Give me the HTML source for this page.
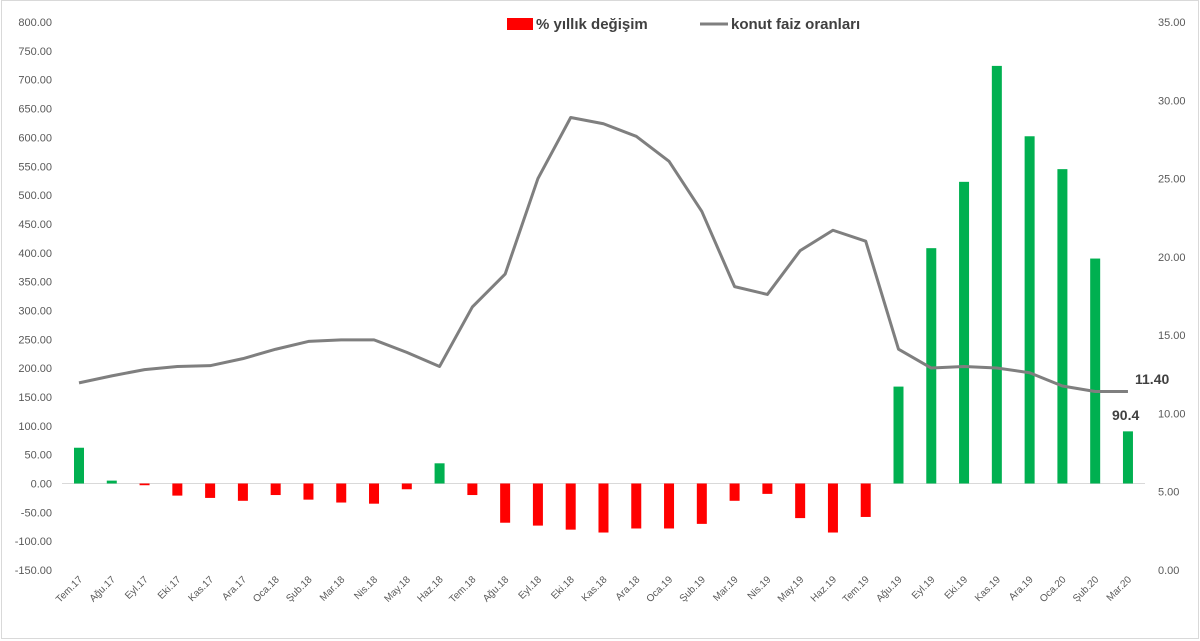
<!DOCTYPE html>
<html><head><meta charset="utf-8"><style>
html,body{margin:0;padding:0;background:#fff;}
svg{display:block;font-family:"Liberation Sans",Arial,sans-serif;}
</style></head><body>
<svg width="1200" height="641" viewBox="0 0 1200 641" xmlns="http://www.w3.org/2000/svg">
<rect width="1200" height="641" fill="#fff"/>
<rect x="1.5" y="0.5" width="1197" height="638" fill="none" stroke="#d9d9d9" stroke-width="1"/>
<g id="g"></g>
</svg>
<script>
const NS="http://www.w3.org/2000/svg",g=document.getElementById('g');
function el(t,a,txt){const e=document.createElementNS(NS,t);for(const k in a)e.setAttribute(k,a[k]);if(txt!==undefined)e.textContent=txt;g.appendChild(e);return e;}
const yL=v=>483.5-v*0.5768, yR=v=>570-v*15.657;
for(let v=-150;v<=800;v+=50)el('text',{x:52,y:yL(v)+4,'text-anchor':'end','font-size':11,fill:'#595959'},v.toFixed(2));
for(let v=0;v<=35;v+=5)el('text',{x:1158,y:yR(v)+4,'font-size':11,fill:'#595959'},v.toFixed(2));
el('line',{x1:62,x2:1145,y1:483.5,y2:483.5,stroke:'#d9d9d9','stroke-width':1});
const cats=["Tem.17","Ağu.17","Eyl.17","Eki.17","Kas.17","Ara.17","Oca.18","Şub.18","Mar.18","Nis.18","May.18","Haz.18","Tem.18","Ağu.18","Eyl.18","Eki.18","Kas.18","Ara.18","Oca.19","Şub.19","Mar.19","Nis.19","May.19","Haz.19","Tem.19","Ağu.19","Eyl.19","Eki.19","Kas.19","Ara.19","Oca.20","Şub.20","Mar.20"];
const bars=[62,5,-3,-21,-25,-30,-20,-28,-33,-35,-10,35,-20,-68,-73,-80,-85,-78,-78,-70,-30,-18,-60,-85,-58,168,408,523,724,602,545,390,90.4];
const line=[11.95,12.4,12.8,13.0,13.05,13.5,14.1,14.6,14.7,14.7,13.9,13.0,16.8,18.9,25.0,28.9,28.5,27.7,26.1,22.9,18.1,17.6,20.4,21.7,21.0,14.1,12.9,13.0,12.9,12.6,11.75,11.4,11.4];
const X=i=>79+i*32.78;
bars.forEach((v,i)=>{const y0=yL(0),y1=yL(v);el('rect',{x:X(i)-5,y:Math.min(y0,y1),width:10,height:Math.abs(y1-y0),fill:v>=0?'#00b050':'#ff0000'});});
el('polyline',{points:line.map((v,i)=>X(i)+','+yR(v)).join(' '),fill:'none',stroke:'#7f7f7f','stroke-width':3,'stroke-linejoin':'round'});
cats.forEach((c,i)=>{const x=X(i)+4,y=580;el('text',{x:x,y:y,'text-anchor':'end','font-size':10,fill:'#595959',transform:`rotate(-45 ${x} ${y})`},c);});
el('text',{x:1135,y:384,'font-size':14,'font-weight':'bold',fill:'#404040'},'11.40');
el('text',{x:1112,y:420,'font-size':14,'font-weight':'bold',fill:'#404040'},'90.4');
el('rect',{x:507,y:18,width:26,height:12,fill:'#ff0000'});
el('text',{x:536,y:29,'font-size':15,'font-weight':'bold',fill:'#404040'},'% yıllık değişim');
el('line',{x1:700,x2:728,y1:24,y2:24,stroke:'#7f7f7f','stroke-width':3});
el('text',{x:731,y:29,'font-size':15,'font-weight':'bold',fill:'#404040'},'konut faiz oranları');
</script>
</body></html>
